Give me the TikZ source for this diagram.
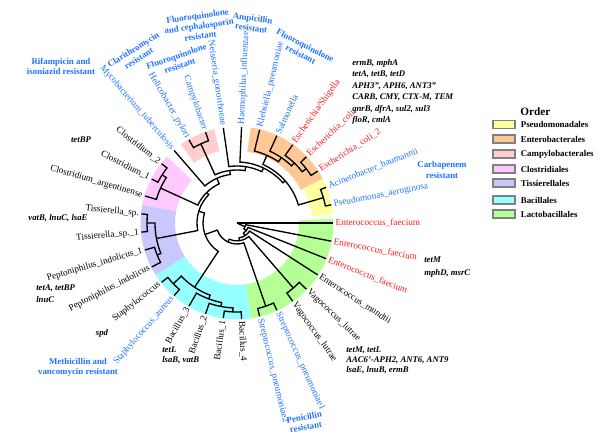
\documentclass[tikz,border=0pt]{standalone}
\usepackage{fontspec}
\setmainfont{Liberation Serif}
\usepackage{xcolor}
\usepackage{tikz}
\usetikzlibrary{positioning}
\tikzset{
	branch/.style={line width=0.95pt},
	sp/.style={font=\fontsize{6.6}{7.5}\selectfont, inner sep=1pt},
	spR/.style={sp, anchor=west, rotate=#1},
	spL/.style={sp, anchor=east, rotate=#1+180},
	res/.style={text=ResBlue, font=\fontsize{6.3}{7.2}\selectfont\bfseries, align=center, inner sep=0pt},
	gene/.style={font=\fontsize{6.2}{#1}\selectfont\bfseries\itshape, align=left, inner sep=0pt},
	gene/.default=7.2pt,
	legbox/.style={draw=gray, line width=0.8pt, minimum width=0.55cm, minimum height=0.2cm, inner sep=0pt},
	legtxt/.style={font=\fontsize{6.3}{7}\selectfont\bfseries, inner sep=0pt, right=0.125cm of #1},
}
\definecolor{ResBlue}{RGB}{30,115,255}
\definecolor{ResRed}{RGB}{245,30,30}
\definecolor{Pseudo}{RGB}{255,255,160}
\definecolor{Entero}{RGB}{255,200,150}
\definecolor{Campy}{RGB}{255,205,205}
\definecolor{Clostr}{RGB}{255,200,255}
\definecolor{Tissier}{RGB}{200,200,255}
\definecolor{Bacill}{RGB}{150,255,255}
\definecolor{Lacto}{RGB}{180,255,150}
% node radius, angle/radius of first child, angle/radius of second child
\newcommand*{\clade}[5]{\draw[branch] (#2:#3) -- (#2:#1) arc[start angle=#2, end angle=#4, radius=#1] -- (#4:#5);}
\newcommand*{\band}[5]{\fill[#1] (#2:#4) arc[start angle=#2, end angle=#3, radius=#4] -- (#3:#5) arc[start angle=#3, end angle=#2, radius=#5] -- cycle;}

\begin{document}
\begin{tikzpicture}[x=0.025cm, y=0.025cm]
\useasboundingbox (0,0) rectangle (600,440);

\begin{scope}[shift={(237,217)}]
\band{Lacto}{2.5}{-81.8}{62}{96.5}
\band{Bacill}{-81.8}{-147.3}{62}{96.5}
\band{Tissier}{-147.3}{-190.9}{62}{96.5}
\band{Clostr}{-190.9}{-223.6}{62}{96.5}
\band{Campy}{-234.5}{-256.4}{74}{96.5}
\band{Entero}{-278.2}{-332.7}{72}{96.5}
\band{Pseudo}{-332.7}{-355}{75}{96.5}

% backbone
\draw[branch] (0,0) -- (0:96);
\draw[branch] (0,0) -- (-25.29:9);
\clade{9}{-10.91}{96}{-39.67}{12}
\clade{12}{-21.82}{96}{-57.53}{15}
\clade{15}{-32.73}{96}{-82.33}{18}
\clade{18}{-49.09}{86}{-115.58}{21}
\clade{21}{-70.91}{88}{-160.24}{34}
\clade{34}{-123.4}{77}{-197.08}{40}
\clade{40}{-169.09}{82}{-225.08}{43}
\clade{43}{-204.55}{84}{-245.6}{49}
\clade{49}{-229.09}{96}{-262.12}{53}
\clade{53}{-245.45}{87}{-278.78}{57}
\clade{57}{-261.82}{96}{-295.74}{61}
\clade{61}{-272.73}{96}{-318.75}{64}
\clade{64}{-293.86}{74}{-343.64}{90}

% orders
\clade{86}{-43.64}{96}{-54.55}{96}
\clade{88}{-65.45}{96}{-76.36}{96}
\clade{77}{-110.45}{81}{-136.36}{88}
\clade{81}{-100.91}{85}{-120}{96}
\clade{85}{-92.73}{89}{-109.09}{96}
\clade{89}{-87.27}{96}{-98.18}{96}
\clade{88}{-130.91}{96}{-141.82}{96}
\clade{82}{-158.18}{86}{-180}{90}
\clade{86}{-152.73}{96}{-163.64}{96}
\clade{90}{-174.55}{96}{-185.45}{96}
\clade{84}{-196.36}{96}{-212.73}{89}
\clade{89}{-207.27}{96}{-218.18}{96}
\clade{87}{-240}{96}{-250.91}{96}
\clade{74}{-283.64}{96}{-304.09}{79}
\clade{79}{-294.55}{96}{-313.64}{83}
\clade{83}{-305.45}{96}{-321.82}{88}
\clade{88}{-316.36}{96}{-327.27}{96}
\clade{90}{-338.18}{96}{-349.09}{96}

% leaves
\node[spR=0, text=ResRed] (ef1) at (0:97) {Enterococcus\_faecium};
\node[spR=-10.91, text=ResRed] (ef2) at (-10.91:97) {Enterococcus\_faecium};
\node[spR=-21.82, text=ResRed] (ef3) at (-21.82:97) {Enterococcus\_faecium};
\node[spR=-32.73] (emu) at (-32.73:97) {Enterococcus\_mundtii};
\node[spR=-43.64] (vag1) at (-43.64:97) {Vagococcus\_lutrae};
\node[spR=-54.55] (vag2) at (-54.55:97) {Vagococcus\_lutrae};
\node[spR=-65.45, text=ResBlue] (str1) at (-65.45:97) {Streptococcus\_pneumoniae1};
\node[spR=-76.36, text=ResBlue] (str2) at (-76.36:97) {Streptococcus\_pneumoniae2};
\node[spR=-87.27] (bac4) at (-87.27:97) {Bacillus\_4};
\node[spL=-98.18] (bac1) at (-98.18:97) {Bacillus\_1};
\node[spL=-109.09] (bac2) at (-109.09:97) {Bacillus\_2};
\node[spL=-120] (bac3) at (-120:97) {Bacillus\_3};
\node[spL=-130.91, text=ResBlue] (sau) at (-130.91:97) {Staphylococcus\_aureus};
\node[spL=-141.82] (sta) at (-141.82:97) {Staphylococcus};
\node[spL=-152.73] (pep) at (-152.73:97) {Peptoniphilus\_indolicus};
\node[spL=-163.64] (pep1) at (-163.64:97) {Peptoniphilus\_indolicus\_1};
\node[spL=-174.55] (tis1) at (-174.55:97) {Tissierella\_sp.\_1};
\node[spL=-185.45] (tis) at (-185.45:97) {Tissierella\_sp.};
\node[spL=-196.36] (clarg) at (-196.36:97) {Clostridium\_argentinense};
\node[spL=-207.27] (cl1) at (-207.27:97) {Clostridium\_1};
\node[spL=-218.18] (cl2) at (-218.18:97) {Clostridium\_2};
\node[spL=-229.09, text=ResBlue] (myc) at (-229.09:97) {Mycobacterium\_tuberculosis};
\node[spL=-240, text=ResBlue] (hel) at (-240:97) {Helicobacter\_pylori};
\node[spL=-250.91, text=ResBlue] (cam) at (-250.91:97) {Campylobacter};
\node[spL=-261.82, text=ResBlue] (nei) at (-261.82:97) {Neisseria\_gonorrhoeae};
\node[spR=-272.73, text=ResBlue] (hae) at (-272.73:97) {Haemophilus\_influenzae};
\node[spR=-283.64, text=ResBlue] (kle) at (-283.64:97) {Klebsiella\_pneumoniae};
\node[spR=-294.55, text=ResBlue] (sal) at (-294.55:97) {Salmonella};
\node[spR=-305.45, text=ResRed] (esh) at (-305.45:97) {Escherichia/Shigella};
\node[spR=-316.36, text=ResRed] (eco) at (-316.36:97) {Escherichia\_coli};
\node[spR=-327.27, text=ResRed] (eco2) at (-327.27:97) {Escherichia\_coli\_2};
\node[spR=-338.18, text=ResBlue] (aci) at (-338.18:97) {Acinetobacter\_baumannii};
\node[spR=-349.09, text=ResBlue] (pse) at (-349.09:97) {Pseudomonas\_aeruginosa};
\end{scope}

% resistance
\node[res] (rifa) at (61,374) {Rifampicin and\\isoniazid resistant};
\node[res, rotate=32] (clar) at (136,386) {Clarithromycin\\resistant};
\node[res, rotate=19] (fq1) at (178,379) {Fluoroquinolone\\resistant};
\node[res, rotate=8] (fq2) at (199,414) {Fluoroquinolone\\and cephalosporin\\resistant};
\node[res, rotate=-8] (ampi) at (252,417) {Ampicillin\\resistant};
\node[res, rotate=-27] (fq3) at (303,390) {Fluoroquinolone\\resistant};
\node[res] (carb) at (442,270) {Carbapenem\\resistant};
\node[res] (meth) at (78,73) {Methicillin and\\vancomycin resistant};
\node[res, rotate=10] (peni) at (305,18) {Penicillin\\resistant};

% genes
\node[gene=8.2pt, anchor=west] (genEnt) at (352,348) {ermB, mphA\\tetA, tetB, tetD\\APH3'', APH6, ANT3''\\CARB, CMY, CTX-M, TEM\\qnrB, dfrA, sul2, sul3\\floR, cmlA};
\node[gene] (genClo) at (81,300) {tetBP};
\node[gene] (genTis) at (58,222) {vatB, lnuC, lsaE};
\node[gene=8.5pt, anchor=west] (genPep) at (36,146) {tetA, tetBP\\lnuC};
\node[gene] (genSta) at (102,107) {spd};
\node[gene, anchor=west] (genBac) at (162,85) {tetL\\lsaB, vatB};
\node[gene=9pt, anchor=west] (genEfa) at (424,173) {tetM\\mphD, msrC};
\node[gene, anchor=west] (genVag) at (346,80) {tetM, tetL\\AAC6'-APH2, ANT6, ANT9\\lsaE, lnuB, ermB};

% legend
\node[font=\fontsize{8}{9}\selectfont\bfseries, anchor=west, inner sep=0pt] (order) at (520,328) {Order};
\node[legbox, fill=Pseudo] (lgPse) at (504,315.5) {};
\node[legtxt=lgPse] {Pseudomonadales};
\node[legbox, fill=Entero] (lgEnt) at (504,301) {};
\node[legtxt=lgEnt] {Enterobacterales};
\node[legbox, fill=Campy] (lgCam) at (504,286) {};
\node[legtxt=lgCam] {Campylobacterales};
\node[legbox, fill=Clostr] (lgClo) at (504,271) {};
\node[legtxt=lgClo] {Clostridiales};
\node[legbox, fill=Tissier] (lgTis) at (504,257) {};
\node[legtxt=lgTis] {Tissierellales};
\node[legbox, fill=Bacill] (lgBac) at (504,240) {};
\node[legtxt=lgBac] {Bacillales};
\node[legbox, fill=Lacto] (lgLac) at (504,226) {};
\node[legtxt=lgLac] {Lactobacillales};

\end{tikzpicture}
\end{document}
